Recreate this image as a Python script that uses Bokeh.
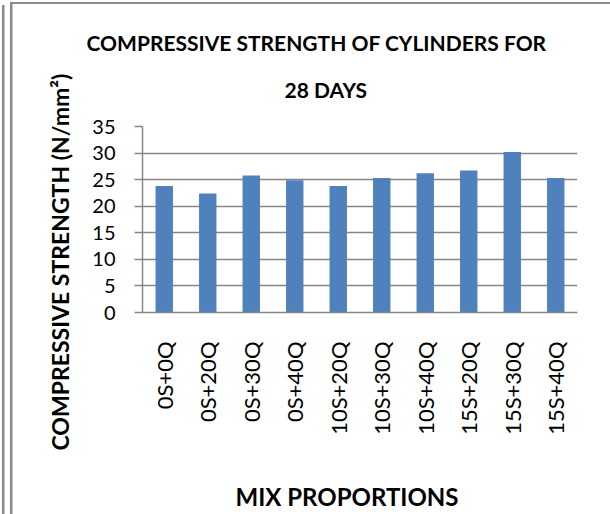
import math
from bokeh.plotting import figure
from bokeh.models import (Range1d, FactorRange, FixedTicker, Title, CategoricalAxis)
from bokeh.embed import file_html
from bokeh.resources import INLINE

# ---- data ----
mixes = ["0S+0Q", "0S+20Q", "0S+30Q", "0S+40Q", "10S+20Q",
         "10S+30Q", "10S+40Q", "15S+20Q", "15S+30Q", "15S+40Q"]
strength = [23.8, 22.4, 25.8, 24.9, 23.8, 25.3, 26.2, 26.7, 30.2, 25.3]
y_ticks = [0, 5, 10, 15, 20, 25, 30, 35]
title_line1 = "COMPRESSIVE STRENGTH OF CYLINDERS FOR"
title_line2 = "28 DAYS"
y_title = "COMPRESSIVE STRENGTH (N/mm²)"
x_title = "MIX PROPORTIONS"

GRID = "#868686"
BAR = "#4F81BD"
FONT = "Lato"
EDGE = "#8C8C8C"

p = figure(width=610, height=514, x_range=FactorRange(factors=mixes),
           y_range=Range1d(0, 35), output_backend="svg", toolbar_location=None,
           min_border_left=142, min_border_right=33, min_border_top=126,
           min_border_bottom=202)
p.title.visible = False
p.outline_line_color = None
p.background_fill_color = "white"
p.border_fill_color = None
p.styles = {"background": (
    f"linear-gradient({EDGE},{EDGE}) 2px 5px / 2.5px 100% no-repeat, "
    f"linear-gradient({EDGE},{EDGE}) 10px 1.5px / 2.5px 100% no-repeat, "
    f"linear-gradient({EDGE},{EDGE}) 10px 1.5px / 100% 2px no-repeat, #ffffff")}

p.vbar(x=mixes, top=strength, width=0.4, fill_color=BAR, line_color=None)

# y axis
p.yaxis.ticker = FixedTicker(ticks=y_ticks)
p.yaxis.axis_line_color = GRID
p.yaxis.axis_line_width = 1.5
p.yaxis.major_tick_line_color = GRID
p.yaxis.major_tick_line_width = 1.5
p.yaxis.major_tick_out = 8
p.yaxis.major_tick_in = 0
p.yaxis.minor_tick_line_color = None
p.yaxis.major_label_standoff = 19
p.yaxis.major_label_text_font = FONT
p.yaxis.major_label_text_font_size = "20px"
p.yaxis.major_label_text_color = "#000000"

# x axis
p.xaxis.axis_line_color = GRID
p.xaxis.axis_line_width = 1.5
p.xaxis.major_tick_line_color = None
p.xaxis.major_tick_out = 0
p.xaxis.major_tick_in = 0
p.xaxis.minor_tick_line_color = None
p.xaxis.major_label_orientation = math.pi / 2
p.xaxis.major_label_standoff = 29
p.xaxis.major_label_text_font = FONT
p.xaxis.major_label_text_font_size = "22px"
p.xaxis.major_label_text_color = "#000000"

p.xgrid.grid_line_color = None
p.ygrid.grid_line_color = GRID
p.ygrid.grid_line_width = 1.5

# blank spacer axis (nothing drawn) between tick labels and the x title
p.add_layout(CategoricalAxis(major_tick_out=44, major_tick_in=0,
                             major_tick_line_color=None, minor_tick_line_color=None,
                             axis_line_color=None, major_label_standoff=0,
                             major_label_text_color=None,
                             major_label_text_font_size="1px"), "below")
p.add_layout(Title(text=x_title, align="left", offset=93, vertical_align="top",
                   standoff=0, text_font=FONT, text_font_style="bold",
                   text_font_size="24px", text_color="#000000"), "below")

# chart titles
p.add_layout(Title(text=title_line2, align="left", offset=142, vertical_align="top",
                   standoff=45, text_font=FONT, text_font_style="bold",
                   text_font_size="21px", text_color="#000000"), "above")
p.add_layout(Title(text=title_line1, align="left", offset=-56, vertical_align="bottom",
                   standoff=0, text_font=FONT, text_font_style="bold",
                   text_font_size="21px", text_color="#000000"), "above")
p.add_layout(Title(text=y_title, align="left", offset=-138, vertical_align="bottom",
                   standoff=32, text_font=FONT, text_font_style="bold",
                   text_font_size="23px", text_color="#000000"), "left")

open("out.html", "w").write(file_html(p, INLINE))
